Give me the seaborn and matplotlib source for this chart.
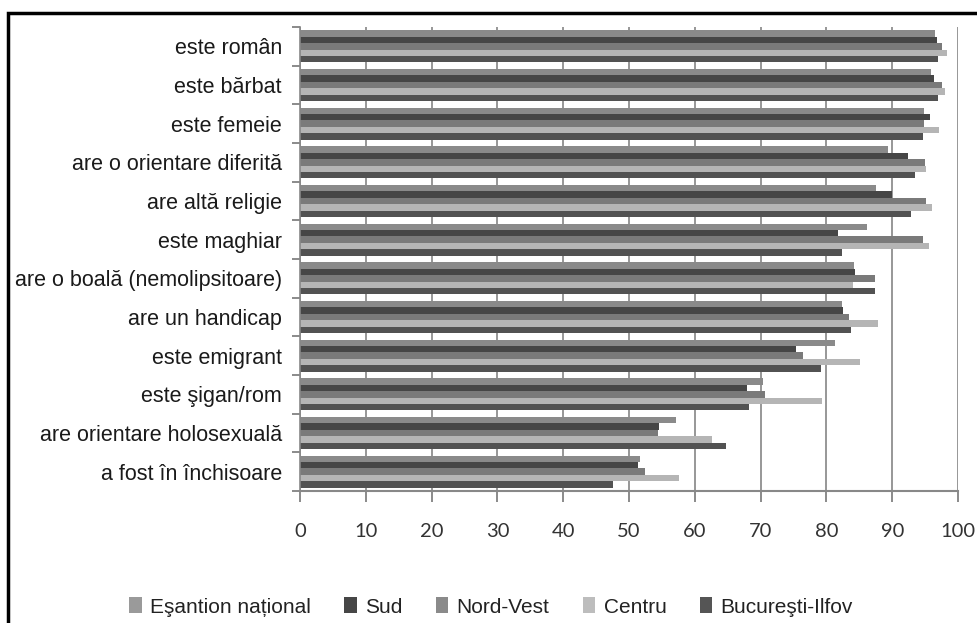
import matplotlib
matplotlib.use("Agg")
import matplotlib.pyplot as plt
import seaborn as sns
import pandas as pd
from matplotlib.patches import Rectangle, Patch

categories = ["este român", "este bărbat", "este femeie", "are o orientare diferită",
              "are altă religie", "este maghiar", "are o boală (nemolipsitoare)",
              "are un handicap", "este emigrant", "este şigan/rom",
              "are orientare holosexuală", "a fost în închisoare"]
series = ["Eşantion național", "Sud", "Nord-Vest", "Centru", "Bucureşti-Ilfov"]

esantion = [96.5, 95.9, 94.8, 89.3, 87.6, 86.1, 84.2, 82.3, 81.3, 70.3, 57.1, 51.6]
sud      = [96.8, 96.3, 95.8, 92.4, 90.0, 81.8, 84.4, 82.5, 75.4, 68.0, 54.6, 51.4]
nordvest = [97.6, 97.5, 94.9, 95.0, 95.2, 94.7, 87.4, 83.5, 76.5, 70.7, 54.4, 52.5]
centru   = [98.3, 98.0, 97.1, 95.2, 96.1, 95.6, 84.0, 87.8, 85.1, 79.3, 62.6, 57.6]
bucuresti= [96.9, 96.9, 94.7, 93.5, 92.9, 82.4, 87.4, 83.7, 79.2, 68.2, 64.8, 47.6]

xticks = [0, 10, 20, 30, 40, 50, 60, 70, 80, 90, 100]

colors = ["#8a8a8a", "#464646", "#7a7a7a", "#b5b5b5", "#525252"]
legend_colors = ["#9a9a9a", "#464646", "#8a8a8a", "#bdbdbd", "#555555"]

rows = []
for s, vals in zip(series, [esantion, sud, nordvest, centru, bucuresti]):
    for c, v in zip(categories, vals):
        rows.append({"cat": c, "series": s, "val": v})
df = pd.DataFrame(rows)

sns.set_theme(style="white")
plt.rcParams["font.family"] = ["Liberation Sans", "DejaVu Sans"]

W, H = 978, 623
fig = plt.figure(figsize=(W / 100, H / 100), dpi=100)
left, right, top, bottom = 300, 958, 27, 491
ax = fig.add_axes([left / W, 1 - bottom / H, (right - left) / W, (bottom - top) / H])

sns.barplot(data=df, y="cat", x="val", hue="series", order=categories, hue_order=series,
            palette=colors, orient="h", width=0.82, saturation=1, ax=ax, legend=False,
            edgecolor="none")

ax.set_xlim(0, 100)
ax.set_ylim(len(categories) - 0.5, -0.5)
ax.set_xticks(xticks)
ax.set_xticklabels([str(t) for t in xticks], fontfamily="Lato", fontsize=14.5, color="#333333")
ax.grid(axis="x", color="#8f8f8f", linewidth=1.3)
ax.set_axisbelow(True)
ax.set_xlabel("")
ax.set_ylabel("")
ax.set_yticks(range(len(categories)))
ax.set_yticklabels(categories, fontsize=15.5, color="#1a1a1a")
ax.set_yticks([i - 0.5 for i in range(len(categories) + 1)], minor=True)
ax.tick_params(axis="y", which="major", length=0, pad=13)
ax.tick_params(axis="y", which="minor", length=6, color="#777777", width=1.2, left=True)
ax.tick_params(axis="x", length=8, color="#777777", width=1.2, pad=15, bottom=True)
for side in ["top", "right"]:
    ax.spines[side].set_visible(False)
ax.spines["left"].set_color("#888888")
ax.spines["left"].set_linewidth(1.2)
ax.spines["bottom"].set_color("#888888")
ax.spines["bottom"].set_linewidth(1.5)

handles = [Patch(facecolor=c, edgecolor="none") for c in legend_colors]
fig.legend(handles, series, loc="center", bbox_to_anchor=(491 / W, 1 - 607 / H), ncol=5,
           frameon=False, fontsize=15, handlelength=0.6, handleheight=0.8,
           handletextpad=0.4, columnspacing=1.6, labelcolor="#222222")

fig.add_artist(Rectangle((8 / W, -0.1), 1.2, (H - 13) / H + 0.1, transform=fig.transFigure,
                         fill=False, edgecolor="black", linewidth=2.5, clip_on=False))

fig.savefig("out.png", dpi=100)
